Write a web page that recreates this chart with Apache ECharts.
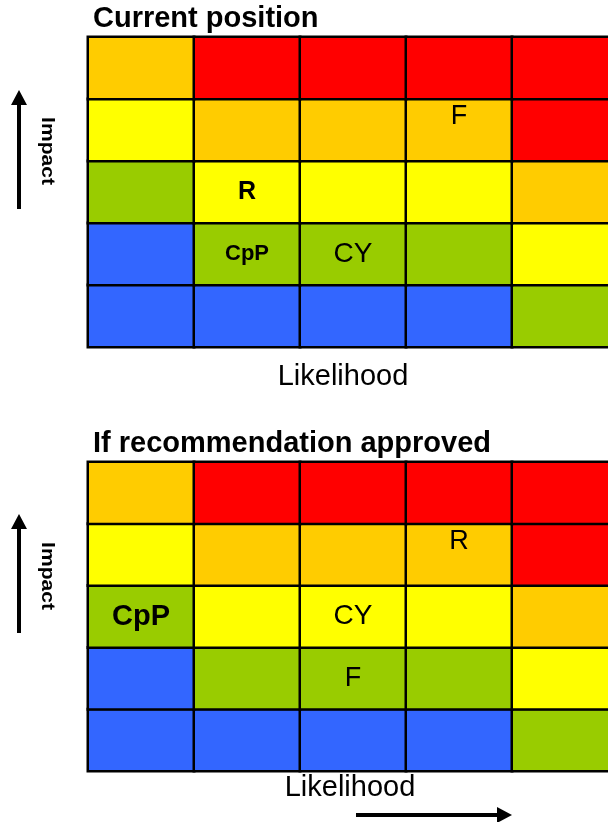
<!DOCTYPE html>
<html>
<head>
<meta charset="utf-8">
<script src="https://cdn.jsdelivr.net/npm/echarts@6/dist/echarts.min.js"></script>
<style>
  html, body { margin: 0; padding: 0; background: #fff; }
  #chart { width: 608px; height: 822px; }
</style>
</head>
<body>
<div id="chart"></div>
<script>
var likelihood = ['1', '2', '3', '4', '5'];
var impact = ['1', '2', '3', '4', '5'];
// risk level per cell, rows from impact 1 (bottom) up to impact 5 (top)
var riskLevels = [
  [1, 1, 1, 1, 2],
  [1, 2, 2, 2, 3],
  [2, 3, 3, 3, 4],
  [3, 4, 4, 4, 5],
  [4, 5, 5, 5, 5]
];
var levelColors = ['#3366FF', '#99CC00', '#FFFF00', '#FFCC00', '#FF0000'];
// [name, likelihood index, impact index]
var currentMarkers = [['F', 3, 3], ['R', 1, 2], ['CpP', 1, 1], ['CY', 2, 1]];
var approvedMarkers = [['R', 3, 3], ['CpP', 0, 2], ['CY', 2, 2], ['F', 2, 1]];

var FONT = '"Liberation Sans", Arial, sans-serif';

// label look for each marker in each chart
var markerStyles = {
  current: {
    F: { fontSize: 27, fontWeight: 'normal', offset: [0, -13] },
    R: { fontSize: 25, fontWeight: 'bold' },
    CpP: { fontSize: 22, fontWeight: 'bold' },
    CY: { fontSize: 28, fontWeight: 'normal' }
  },
  approved: {
    R: { fontSize: 27, fontWeight: 'normal', offset: [0, -13] },
    CpP: { fontSize: 29, fontWeight: 'bold' },
    CY: { fontSize: 28, fontWeight: 'normal' },
    F: { fontSize: 27, fontWeight: 'normal' }
  }
};

function buildCells(markers, styles) {
  var cells = [];
  for (var i = 0; i < riskLevels.length; i++) {
    for (var j = 0; j < riskLevels[i].length; j++) {
      var item = { value: [j, i, riskLevels[i][j]] };
      for (var k = 0; k < markers.length; k++) {
        if (markers[k][1] == j && markers[k][2] == i) {
          var st = styles[markers[k][0]];
          item.name = markers[k][0];
          item.label = {
            show: true,
            formatter: '{b}',
            color: '#000',
            fontFamily: FONT,
            fontSize: st.fontSize,
            fontWeight: st.fontWeight,
            offset: st.offset || [0, 0]
          };
        }
      }
      cells.push(item);
    }
  }
  return cells;
}

var pieces = [];
for (var p = 0; p < levelColors.length; p++) {
  pieces.push({ value: p + 1, color: levelColors[p] });
}

function arrowGraphics(x1, y1, x2, y2) {
  // shaft plus a triangular head pointing at (x2, y2)
  var horiz = y1 == y2;
  var dir = horiz ? (x2 > x1 ? 1 : -1) : (y2 > y1 ? 1 : -1);
  var headLen = 15, headHalf = 8;
  var shaftEnd = horiz ? [x2 - dir * headLen, y2] : [x2, y2 - dir * headLen];
  var headPts = horiz
    ? [[x2, y2], [x2 - dir * headLen, y2 - headHalf], [x2 - dir * headLen, y2 + headHalf]]
    : [[x2, y2], [x2 - headHalf, y2 - dir * headLen], [x2 + headHalf, y2 - dir * headLen]];
  return [
    { type: 'line', shape: { x1: x1, y1: y1, x2: shaftEnd[0], y2: shaftEnd[1] }, style: { stroke: '#000', lineWidth: 4 } },
    { type: 'polygon', shape: { points: headPts }, style: { fill: '#000' } }
  ];
}

function label(text, x, y, size, weight, extra) {
  var el = {
    type: 'text', x: x, y: y,
    style: { text: text, fontFamily: FONT, fontSize: size, fontWeight: weight, fill: '#000', align: 'center', verticalAlign: 'middle' }
  };
  for (var key in extra) el[key] = extra[key];
  return el;
}

var graphics = [
  label('Current position', 93, 19, 29, 'bold', {}),
  label('If recommendation approved', 93, 444, 29, 'bold', {}),
  label('Likelihood', 343, 377, 29, 'normal', {}),
  label('Likelihood', 350, 788, 29, 'normal', {}),
  label('Impact', 47, 151, 18, 'bold', { rotation: -Math.PI / 2, scaleX: 1.17 }),
  label('Impact', 47, 576, 18, 'bold', { rotation: -Math.PI / 2, scaleX: 1.17 })
];
graphics[0].style.align = 'left';
graphics[1].style.align = 'left';
graphics = graphics
  .concat(arrowGraphics(19, 209, 19, 90))
  .concat(arrowGraphics(19, 633, 19, 514))
  .concat(arrowGraphics(356, 815, 512, 815));

var myChart = echarts.init(document.getElementById('chart'), null, { renderer: 'canvas' });

var option = {
  animation: false,
  grid: [
    { left: 88, top: 37, width: 530, height: 310, outerBoundsMode: 'none' },
    { left: 88, top: 462, width: 530, height: 309, outerBoundsMode: 'none' }
  ],
  xAxis: [
    { type: 'category', gridIndex: 0, data: likelihood, show: false },
    { type: 'category', gridIndex: 1, data: likelihood, show: false }
  ],
  yAxis: [
    { type: 'category', gridIndex: 0, data: impact, show: false },
    { type: 'category', gridIndex: 1, data: impact, show: false }
  ],
  visualMap: {
    type: 'piecewise',
    show: false,
    dimension: 2,
    seriesIndex: [0, 1],
    pieces: pieces
  },
  series: [
    {
      type: 'heatmap',
      xAxisIndex: 0, yAxisIndex: 0,
      data: buildCells(currentMarkers, markerStyles.current),
      itemStyle: { borderColor: '#000', borderWidth: 2.5 },
      label: { show: false },
      emphasis: { disabled: true }
    },
    {
      type: 'heatmap',
      xAxisIndex: 1, yAxisIndex: 1,
      data: buildCells(approvedMarkers, markerStyles.approved),
      itemStyle: { borderColor: '#000', borderWidth: 2.5 },
      label: { show: false },
      emphasis: { disabled: true }
    }
  ],
  graphic: graphics
};

myChart.setOption(option);
</script>
</body>
</html>
